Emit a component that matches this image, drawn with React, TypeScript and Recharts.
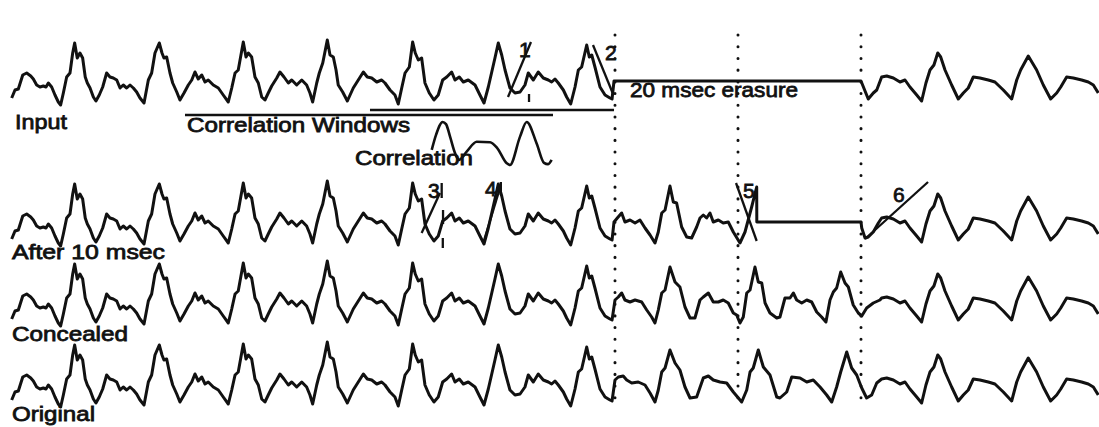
import React from 'react';
import { LineChart, Line, XAxis, YAxis, ReferenceLine } from 'recharts';

type Pt = [number, number];

// time in ms, amplitude in trace units (0 = zero level of a row)
const rowNames = ['Input', 'After 10 msec', 'Concealed', 'Original'];
const erasureMarks = [50, 60, 70];
const erasureText = '20 msec erasure';
const windowText = 'Correlation Windows';
const corrText = 'Correlation';
const pitchLabels = ['1', '2', '3', '4', '5', '6'];

// speech before the erasure, identical in all four rows
const history: Pt[] = [
  [0.95, -17], [1.22, -9], [1.49, -8], [1.85, 6], [2.17, 8], [2.5, 5], [2.71, 2], [2.98, -4],
  [3.25, -6], [3.52, -5], [3.74, -6], [3.93, -2], [4.2, -6], [4.47, -14], [4.74, -21], [4.93, -24],
  [5.15, -12], [5.42, 4], [5.69, 8], [5.91, 28], [6.07, 38], [6.28, 23], [6.5, 28], [6.72, 23],
  [6.93, 4], [7.1, -2], [7.32, -7], [7.59, -16], [7.8, -20], [8.07, -14], [8.35, -6], [8.67, 8],
  [8.94, 4], [9.21, 3], [9.49, 1], [9.76, -7], [10.02, -4], [10.3, -7], [10.57, -4], [10.84, -7],
  [11.11, -11], [11.38, -17], [11.71, -22], [12.06, 1], [12.33, 8], [12.6, 28], [12.95, 38],
  [13.17, 28], [13.33, 23], [13.55, 24], [13.82, 8], [14.04, -2], [14.37, -11], [14.63, -19],
  [14.96, -12], [15.31, -4], [15.59, 1], [15.85, 9], [16.12, 2], [16.4, 6], [16.67, -1], [16.93, 1],
  [17.34, -4], [17.75, -7], [18.15, -14], [18.56, -21], [18.84, -7], [19.11, 8], [19.37, 11],
  [19.78, 39], [20.0, 24], [20.19, 28], [20.46, 24], [20.73, 4], [21.0, -2], [21.28, -16],
  [21.54, -19], [21.81, -12], [22.09, -5], [22.5, 3], [22.76, 9], [23.09, 4], [23.44, -2],
  [23.72, 1], [24.12, -4], [24.53, 1], [24.93, -4], [25.2, -12], [25.42, -21], [25.75, -2],
  [25.96, 8], [26.24, 18], [26.61, 41], [26.83, 26], [27.1, 24], [27.32, 11], [27.5, -4],
  [27.86, -11], [28.24, -20], [28.72, -7], [29.13, 1], [29.54, 9], [29.86, 4], [30.22, 3],
  [30.63, -1], [31.03, 1], [31.3, -2], [31.71, -9], [32.11, -14], [32.38, -23], [32.66, -7],
  [32.93, 8], [33.28, 14], [33.55, 39], [33.76, 28], [34.01, 21], [34.28, 23], [34.55, -2],
  [34.9, -12], [35.28, -19], [35.63, -14], [35.99, 1], [36.32, 4], [36.72, 9], [36.99, 1],
  [37.34, 4], [37.67, -1], [38.07, 1], [38.62, -4], [39.02, -14], [39.35, -22], [39.7, -6],
  [39.98, 9], [40.24, 23], [40.51, 38], [40.79, 26], [41.06, 11], [41.46, -7], [41.87, -12],
  [42.28, -11], [42.68, -4], [42.95, 8], [43.36, 1], [43.76, 9], [44.17, 3], [44.58, 1],
  [44.85, -1], [45.12, 2], [45.39, -2], [45.8, -9], [46.07, -16], [46.4, -23], [46.75, -6],
  [47.02, 11], [47.29, 14], [47.7, 36], [47.91, 24], [48.11, 26], [48.37, 14], [48.78, -6],
  [49.19, -14], [49.59, -17], [49.76, -18],
];

// speech after the erasure, identical in all four rows
const tail: Pt[] = [
  [71.68, 4], [72.09, 5], [72.63, 3], [73.17, -1], [73.58, 1], [73.98, -6], [74.53, -14],
  [74.93, -20], [75.28, -2], [75.61, 11], [75.93, 16], [76.24, 28], [76.48, 24], [76.83, 11],
  [77.37, -4], [77.91, -18], [78.32, -12], [78.72, -7], [79.13, 4], [79.67, 3], [80.35, 1],
  [80.89, -1], [81.57, -9], [82.25, -18], [82.66, 1], [82.98, 11], [83.6, 25], [84.28, 11],
  [84.82, -4], [85.42, -18], [85.91, -12], [86.24, -6], [86.72, 4], [87.26, 3], [87.94, 1],
  [88.48, -1], [88.89, -4], [89.29, -12],
];

// inside the erasure, per row
const inputGap: Pt[] = [[49.92, 0], [70.0, 0], [70.59, -18], [71.0, -12], [71.28, -9]];

const after10Gap: Pt[] = [
  [49.92, 0], [50.19, 4], [50.54, 9], [50.81, 0], [51.22, 2], [51.63, -1], [52.03, 2], [52.44, -6],
  [52.85, -13], [53.25, -21], [53.52, -10], [53.8, 9], [54.07, 12], [54.47, 36], [54.74, 20],
  [55.01, 19], [55.42, -5], [55.83, -15], [56.23, -16], [56.64, -5], [56.91, 4], [57.18, 7],
  [57.45, 4], [57.72, 9], [57.99, 0], [58.4, 2], [58.8, -1], [59.21, 0], [59.62, -10], [60.16, -21],
  [60.57, -10], [61.11, 15], [61.52, 35], [61.53, 0], [70.0, 0], [70.06, -6], [70.33, -16],
  [70.59, -15], [71.0, -10], [71.41, -1],
];

const concealedGap: Pt[] = [
  [50.0, 2], [50.27, 5], [50.54, 9], [50.81, 2], [51.22, 0], [51.63, 2], [52.17, 0], [52.58, -8],
  [52.98, -15], [53.25, -21], [53.52, -8], [53.8, 9], [54.07, 12], [54.47, 35], [54.88, 20],
  [55.28, 15], [55.69, -5], [56.1, -16], [56.5, -16], [56.91, 2], [57.18, 5], [57.59, 9],
  [57.99, 0], [58.4, 0], [58.8, 2], [59.21, -1], [59.62, -11], [59.89, -13], [60.16, -21],
  [60.43, -15], [60.71, 9], [60.98, 12], [61.38, 35], [61.65, 20], [61.93, 19], [62.2, -1],
  [62.6, -11], [63.15, -16], [63.41, -15], [63.82, 4], [64.23, 4], [64.5, 9], [64.77, 2],
  [65.18, -1], [65.59, 2], [65.99, 0], [66.4, -10], [66.8, -15], [67.15, -20], [67.48, 2],
  [67.75, 10], [68.02, 14], [68.35, 30], [68.7, 19], [68.97, 15], [69.37, -3], [69.78, -11],
  [70.06, -14], [70.46, -6], [71.0, -1], [71.54, 2],
];

const originalGap: Pt[] = [
  [50.0, 3], [50.27, 6], [50.67, 7], [50.95, 3], [51.36, 0], [51.89, 1], [52.44, -2], [52.85, -10],
  [53.25, -19], [53.52, -7], [53.8, 11], [54.07, 15], [54.47, 33], [54.88, 20], [55.28, 13],
  [55.69, -4], [56.1, -15], [56.64, -14], [57.18, 5], [57.59, 7], [57.99, 3], [58.54, 1],
  [59.08, 0], [59.62, -9], [60.3, -19], [60.71, -7], [60.98, 11], [61.24, 15], [61.65, 33],
  [62.06, 16], [62.6, 8], [63.15, -14], [63.41, -15], [63.96, -9], [64.37, 6], [65.04, 5],
  [65.59, 1], [66.12, 3], [66.67, -4], [67.21, -12], [67.62, -19], [68.02, -4], [68.35, 11],
  [68.84, 31], [69.24, 15], [69.65, 8], [70.06, -5], [70.46, -15], [70.87, -12], [71.28, 0],
];

// normalised correlation against lag
const correlation: Pt[] = [
  [35.1, 0.35], [35.45, 0.7], [35.99, 1.0], [36.26, 0.95], [36.59, 0.66], [36.99, 0.28],
  [37.32, 0.12], [37.94, 0.31], [38.76, 0.54], [39.84, 0.53], [40.41, 0.4], [41.2, 0.04],
  [41.46, 0.0], [42.28, 0.66], [42.82, 1.0], [43.63, 0.5], [44.23, 0.05], [44.55, 0.02],
  [44.85, 0.12],
];

// correlation windows drawn under the input row: [start, end, level]
const corrWindows: [number, number, number][] = [
  [30.08, 49.92, -29],
  [15.04, 44.96, -34],
];

// pitch marks: row, [t0, v0], [t1, v1]
const pitchMarks: [string, Pt, Pt][] = [
  ['input', [43.17, 39], [41.3, -16]],
  ['input', [43.01, -13], [43.01, -21]],
  ['input', [48.21, 36], [49.81, -12]],
  ['after', [35.77, 29], [34.28, -11]],
  ['after', [35.91, 39], [35.91, 24]],
  ['after', [36.02, 12], [36.02, -2]],
  ['after', [36.0, -16], [36.0, -26]],
  ['after', [40.65, 34], [39.29, -21]],
  ['after', [40.72, 40], [40.72, 27]],
  ['after', [59.84, 39], [61.52, -19]],
  ['after', [75.45, 40], [70.33, -17]],
];

const W = 1099;
const H = 427;
const T_MAX = 89.35;
// pixel row of each row's zero level
const ROW_ZERO = { input: 81, after: 222, concealed: 302, original: 383 };
const CORR_ZERO = 165;
const CORR_UNIT = 43;

const toRows = (pts: Pt[]) => pts.map(([t, v]) => ({ t, v }));

const traces = [
  { id: 'input', data: toRows([...history, ...inputGap, ...tail]) },
  { id: 'after', data: toRows([...history, ...after10Gap, ...tail]) },
  { id: 'concealed', data: toRows([...history, ...concealedGap, ...tail]) },
  { id: 'original', data: toRows([...history, ...originalGap, ...tail]) },
];

const INK = '#111';
const FONT = "'Liberation Sans', Arial, Helvetica, sans-serif";

const textItems = [
  { s: rowNames[0], x: 15, y: 129, w: 52 },
  { s: rowNames[1], x: 12, y: 259, w: 153 },
  { s: rowNames[2], x: 12, y: 341, w: 116 },
  { s: rowNames[3], x: 12, y: 421, w: 83 },
  { s: windowText, x: 187, y: 132, w: 223 },
  { s: corrText, x: 355, y: 165, w: 118 },
  { s: erasureText, x: 630, y: 97, w: 168 },
  { s: pitchLabels[0], x: 519, y: 57 },
  { s: pitchLabels[1], x: 605, y: 60 },
  { s: pitchLabels[2], x: 428, y: 198 },
  { s: pitchLabels[3], x: 485, y: 196 },
  { s: pitchLabels[4], x: 743, y: 198 },
  { s: pitchLabels[5], x: 893, y: 202 },
];

export default function App() {
  return (
    <div style={{ position: 'absolute', left: 0, top: 0, width: W, height: H, background: '#fff' }}>
      <LineChart width={W} height={H} margin={{ top: 0, right: 0, bottom: 0, left: 0 }}>
        <XAxis dataKey="t" type="number" domain={[0, T_MAX]} hide allowDataOverflow />
        {Object.entries(ROW_ZERO).map(([id, z]) => (
          <YAxis key={id} yAxisId={id} type="number" domain={[z - H, z]} hide allowDataOverflow />
        ))}
        <YAxis
          yAxisId="corr"
          type="number"
          domain={[(CORR_ZERO - H) / CORR_UNIT, CORR_ZERO / CORR_UNIT]}
          hide
          allowDataOverflow
        />

        {erasureMarks.map((t) => (
          <ReferenceLine
            key={t}
            yAxisId="input"
            segment={[{ x: t, y: ROW_ZERO.input - 35 }, { x: t, y: ROW_ZERO.input - 405 }]}
            stroke={INK}
            strokeWidth={3}
            strokeDasharray="0.1 11.6"
            strokeLinecap="round"
          />
        ))}

        {corrWindows.map(([a, b, v], i) => (
          <ReferenceLine
            key={`w${i}`}
            yAxisId="input"
            segment={[{ x: a, y: v }, { x: b, y: v }]}
            stroke={INK}
            strokeWidth={2.6}
          />
        ))}

        {pitchMarks.map(([row, p0, p1], i) => (
          <ReferenceLine
            key={`p${i}`}
            yAxisId={row}
            segment={[{ x: p0[0], y: p0[1] }, { x: p1[0], y: p1[1] }]}
            stroke={INK}
            strokeWidth={2.3}
          />
        ))}

        {traces.map((tr) => (
          <Line
            key={tr.id}
            yAxisId={tr.id}
            data={tr.data}
            dataKey="v"
            type="linear"
            stroke={INK}
            strokeWidth={3}
            strokeLinejoin="round"
            dot={false}
            activeDot={false}
            isAnimationActive={false}
          />
        ))}

        <Line
          yAxisId="corr"
          data={toRows(correlation)}
          dataKey="v"
          type="monotone"
          stroke={INK}
          strokeWidth={2.6}
          dot={false}
          activeDot={false}
          isAnimationActive={false}
        />
      </LineChart>

      <svg
        width={W}
        height={H}
        style={{ position: 'absolute', left: 0, top: 0, pointerEvents: 'none' }}
      >
        {textItems.map((it, i) => (
          <text
            key={i}
            x={it.x}
            y={it.y}
            fontFamily={FONT}
            fontSize={21}
            fill={INK}
            stroke={INK}
            strokeWidth={0.8}
            {...(it.w ? { textLength: it.w, lengthAdjust: 'spacingAndGlyphs' } : {})}
          >
            {it.s}
          </text>
        ))}
      </svg>
    </div>
  );
}
